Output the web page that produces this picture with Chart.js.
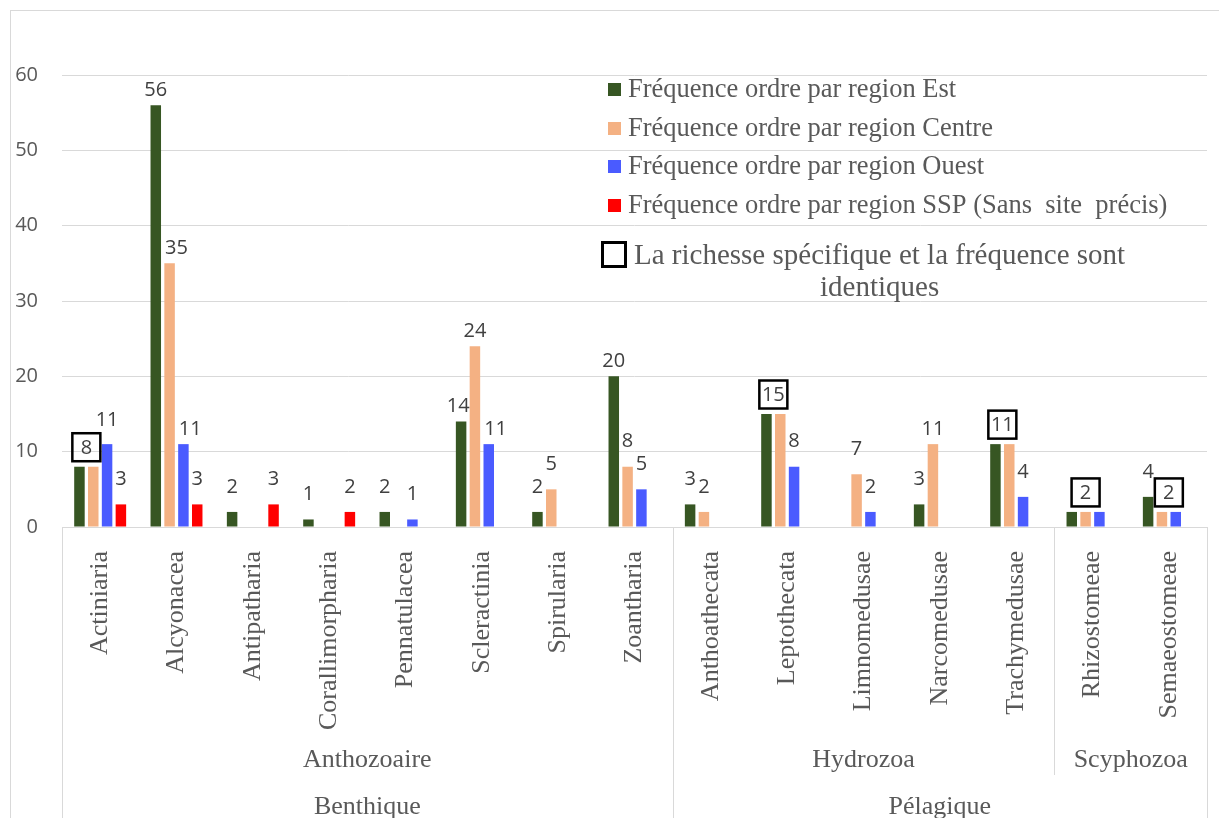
<!DOCTYPE html>
<html>
<head>
<meta charset="utf-8">
<script src="https://cdn.jsdelivr.net/npm/chart.js@4.4.1/dist/chart.umd.min.js"></script>
<style>
  html, body { margin: 0; padding: 0; background: #ffffff; }
  #wrap { width: 1219px; height: 818px; position: relative; }
</style>
</head>
<body>
<div id="wrap"><canvas id="c" width="1219" height="818"></canvas></div>
<script>
// ---------------- DATA ----------------
const categories = ['Actiniaria', 'Alcyonacea', 'Antipatharia', 'Corallimorpharia', 'Pennatulacea',
  'Scleractinia', 'Spirularia', 'Zoantharia', 'Anthoathecata', 'Leptothecata', 'Limnomedusae',
  'Narcomedusae', 'Trachymedusae', 'Rhizostomeae', 'Semaeostomeae'];

const level2Names = ['Anthozoaire', 'Hydrozoa', 'Scyphozoa'];
const level2Counts = [8, 5, 2];
const level3Names = ['Benthique', 'Pélagique'];
const level3Counts = [8, 7];

const seriesNames = [
  'Fréquence ordre par region Est',
  'Fréquence ordre par region Centre',
  'Fréquence ordre par region Ouest',
  'Fréquence ordre par region SSP (Sans  site  précis)'
];
const estValues    = [8, 56, 2, 1, 2, 14, 2, 20, 3, 15, null, 3, 11, 2, 4];
const centreValues = [8, 35, null, null, null, 24, 5, 8, 2, 15, 7, 11, 11, 2, 2];
const ouestValues  = [11, 11, null, null, 1, 11, null, 5, null, 8, 2, null, 4, 2, 2];
const sspValues    = [3, 3, 3, 2, null, null, null, null, null, null, null, null, null, null, null];

// labels shared by equal series (drawn once, boxed): [category, series indexes]
const sharedLabels = [
  ['Actiniaria', [0, 1]],
  ['Leptothecata', [0, 1]],
  ['Trachymedusae', [0, 1]],
  ['Rhizostomeae', [0, 1, 2]],
  ['Semaeostomeae', [1, 2]]
];
const noteText = ['La richesse spécifique et la fréquence sont', 'identiques'];

const yMin = 0, yMax = 60, yStep = 10;

// ---------------- STYLE ----------------
const colors = ['#375623', '#F4B183', '#4A5BFF', '#FF0000'];
const serif = '"Liberation Serif", "Times New Roman", serif';
const sans = '"Open Sans", "Noto Sans", sans-serif';
const textGrey = '#595959';
const gridGrey = '#d9d9d9';

const datasets = [estValues, centreValues, ouestValues, sspValues].map((vals, i) => ({
  label: seriesNames[i],
  data: vals,
  backgroundColor: colors[i],
  borderWidth: 0,
  categoryPercentage: 0.724,
  barPercentage: 0.76
}));

const framePlugin = {
  id: 'frame',
  beforeDraw(chart) {
    const ctx = chart.ctx;
    ctx.save();
    ctx.strokeStyle = gridGrey;
    ctx.lineWidth = 1;
    ctx.strokeRect(10.5, 10.5, 1400, 1000);
    ctx.restore();
  }
};

const labelPlugin = {
  id: 'valueLabels',
  afterDatasetsDraw(chart) {
    const ctx = chart.ctx;
    const dsets = chart.data.datasets;
    ctx.save();
    ctx.font = '20px ' + sans;
    ctx.fillStyle = '#404040';
    ctx.textAlign = 'center';
    ctx.textBaseline = 'middle';
    // boxed shared labels
    const boxes = [];
    sharedLabels.forEach(([cat, idx]) => {
      const j = categories.indexOf(cat);
      const bars = idx.map(k => chart.getDatasetMeta(k).data[j]);
      const x = bars.reduce((a, b) => a + b.x, 0) / bars.length;
      const y = Math.min(...bars.map(b => b.y)) - 19.5;
      const v = dsets[idx[0]].data[j];
      ctx.lineWidth = 2.5;
      ctx.strokeStyle = '#000000';
      ctx.strokeRect(x - 14, y - 14, 28, 28);
      ctx.fillText(String(v), x, y + 1);
      boxes.push({ j, l: x - 15, r: x + 15, t: y - 15, b: y + 15 });
    });
    // individual labels with simple collision avoidance
    dsets.forEach((ds, i) => {
      const meta = chart.getDatasetMeta(i);
      ds.data.forEach((v, j) => {
        if (v === null || v === undefined) return;
        if (sharedLabels.some(s => s[0] === categories[j] && s[1].includes(i))) return;
        const bar = meta.data[j];
        const w = ctx.measureText(String(v)).width;
        let x = bar.x;
        let y = bar.y - (v >= 10 ? 15 : 25);
        dsets.forEach((ods, k) => {
          if (k === i || ods.data[j] === null || ods.data[j] === undefined) return;
          const ob = chart.getDatasetMeta(k).data[j];
          const bl = ob.x - ob.width / 2, br = ob.x + ob.width / 2;
          if (x + w / 2 > bl && x - w / 2 < br && y + 8 > ob.y) {
            x = ob.x < bar.x ? br + w / 2 + 4 : bl - w / 2;
          }
        });
        boxes.forEach(bx => {
          if (bx.j !== j) return;
          if (x + w / 2 > bx.l && x - w / 2 < bx.r && y + 10 > bx.t && y - 10 < bx.b) {
            y = bx.t - 12;
          }
        });
        ctx.fillText(String(v), x, y);
      });
    });
    ctx.restore();
  }
};

const groupAxisPlugin = {
  id: 'groupAxis',
  afterDraw(chart) {
    const ctx = chart.ctx;
    const area = chart.chartArea;
    const n = categories.length;
    const cw = (area.right - area.left) / n;
    const edge = k => area.left + k * cw;
    ctx.save();
    ctx.strokeStyle = gridGrey;
    ctx.lineWidth = 1;
    const vline = (x, y1, y2) => {
      ctx.beginPath();
      ctx.moveTo(Math.round(x) + 0.5, y1);
      ctx.lineTo(Math.round(x) + 0.5, y2);
      ctx.stroke();
    };
    ctx.font = '26px ' + serif;
    ctx.fillStyle = textGrey;
    ctx.textAlign = 'center';
    ctx.textBaseline = 'middle';
    let k = 0;
    vline(edge(0), area.bottom, 818);
    level3Names.forEach((name, g) => {
      const start = k; k += level3Counts[g];
      vline(edge(k), area.bottom, 818);
      ctx.fillText(name, (edge(start) + edge(k)) / 2, 807);
    });
    k = 0;
    level2Names.forEach((name, g) => {
      const start = k; k += level2Counts[g];
      vline(edge(k), area.bottom, 775);
      ctx.fillText(name, (edge(start) + edge(k)) / 2, 760);
    });
    ctx.restore();
  }
};

const legendPlugin = {
  id: 'customLegend',
  afterDraw(chart) {
    const ctx = chart.ctx;
    ctx.save();
    ctx.font = '26.5px ' + serif;
    ctx.fillStyle = textGrey;
    ctx.textBaseline = 'middle';
    ctx.textAlign = 'left';
    const rows = [89, 128, 166, 205];
    chart.data.datasets.forEach((ds, i) => {
      ctx.fillStyle = ds.backgroundColor;
      ctx.fillRect(608, rows[i] - 6, 13, 13);
      ctx.fillStyle = textGrey;
      ctx.fillText(ds.label, 628, rows[i] + 1);
    });
    // note
    ctx.lineWidth = 3;
    ctx.strokeStyle = '#000000';
    ctx.strokeRect(602.5, 242.5, 23, 24);
    ctx.font = '29px ' + serif;
    ctx.fillText(noteText[0], 634, 256);
    const w = ctx.measureText(noteText[0]).width;
    ctx.textAlign = 'center';
    ctx.fillText(noteText[1], 634 + w / 2, 288);
    ctx.restore();
  }
};

new Chart(document.getElementById('c'), {
  type: 'bar',
  data: { labels: categories, datasets: datasets },
  options: {
    responsive: false,
    animation: false,
    layout: { padding: { left: 10, top: 75, right: 12, bottom: 0 } },
    plugins: { legend: { display: false }, tooltip: { enabled: false } },
    scales: {
      x: {
        grid: { display: false },
        border: { display: true, color: gridGrey, width: 1 },
        ticks: {
          autoSkip: false,
          minRotation: 90,
          maxRotation: 90,
          padding: 16,
          color: textGrey,
          font: { family: serif, size: 26 }
        },
        afterFit(scale) { scale.height = 818 - 527; }
      },
      y: {
        min: yMin,
        max: yMax,
        grid: { color: gridGrey, lineWidth: 1, drawTicks: false },
        border: { display: false },
        ticks: {
          stepSize: yStep,
          padding: 24,
          color: textGrey,
          font: { family: sans, size: 20 }
        },
        afterFit(scale) { scale.width = 52; }
      }
    }
  },
  plugins: [framePlugin, labelPlugin, groupAxisPlugin, legendPlugin]
});
</script>
</body>
</html>
